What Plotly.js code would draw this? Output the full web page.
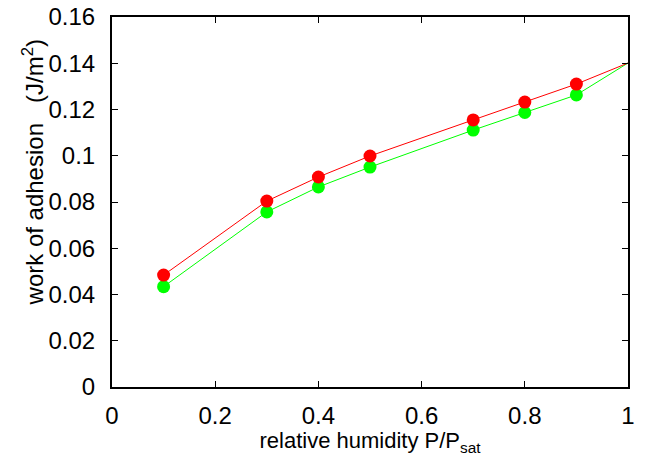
<!DOCTYPE html>
<html><head><meta charset="utf-8">
<script src="https://cdn.plot.ly/plotly-3.0.1.min.js"></script>
<style>body{margin:0;padding:0;background:#fff}#chart{width:646px;height:456px}</style>
</head><body><div id="chart"></div>
<script>
var humidity = [0.1, 0.3, 0.4, 0.5, 0.7, 0.8, 0.9, 1.0];
var adhesionRed = [0.0484, 0.0804, 0.0908, 0.0999, 0.1155, 0.1232, 0.1310, 0.1401];
var adhesionGreen = [0.0434, 0.0757, 0.0865, 0.0951, 0.1111, 0.1187, 0.1263, 0.1401];
var markerSizes = humidity.map(function(x){ return x >= 1 ? 0 : 13; });

var traces = [
  {x: humidity, y: adhesionGreen, mode: 'lines+markers', line: {color: '#00ff00', width: 1},
   marker: {color: '#00ff00', size: markerSizes, opacity: 1, line: {width: 0}}, cliponaxis: false},
  {x: humidity, y: adhesionRed, mode: 'lines+markers', line: {color: '#ff0000', width: 1},
   marker: {color: '#ff0000', size: markerSizes, opacity: 1, line: {width: 0}}, cliponaxis: false}
];
var fam = 'Liberation Sans, Arial, sans-serif';
var layout = {
  width: 646, height: 456,
  margin: {l: 112, r: 18, t: 17, b: 69},
  showlegend: false,
  paper_bgcolor: '#fff', plot_bgcolor: '#fff',
  font: {family: fam, size: 22, color: '#000'},
  xaxis: {range: [0, 1], tickvals: [0, 0.2, 0.4, 0.6, 0.8, 1], ticktext: ['0','0.2','0.4','0.6','0.8','1'],
    ticks: 'inside', ticklen: 6, tickwidth: 1, tickcolor: '#000', mirror: 'ticks',
    showline: true, linecolor: '#000', linewidth: 2, showgrid: false, zeroline: false,
    tickfont: {family: fam, size: 24}, ticklabelstandoff: 6,
    title: {text: 'relative humidity P/P<sub>sat</sub>', font: {family: fam, size: 22}, standoff: 0}},
  yaxis: {range: [0, 0.16], tickvals: [0, 0.02, 0.04, 0.06, 0.08, 0.1, 0.12, 0.14, 0.16],
    ticktext: ['0','0.02','0.04','0.06','0.08','0.1','0.12','0.14','0.16'],
    ticks: 'inside', ticklen: 6, tickwidth: 1, tickcolor: '#000', mirror: 'ticks',
    showline: true, linecolor: '#000', linewidth: 2, showgrid: false, zeroline: false,
    tickfont: {family: fam, size: 24}, ticklabelstandoff: 10},
  annotations: [{
    text: 'work of adhesion&nbsp;&nbsp; (J/m<sup>2</sup>)', textangle: -90,
    xref: 'paper', yref: 'paper', x: -0.153, y: 0.58, xanchor: 'center', yanchor: 'middle',
    showarrow: false, font: {family: fam, size: 24, color: '#000'}
  }]
};
Plotly.newPlot('chart', traces, layout, {displayModeBar: false, staticPlot: true});
</script></body></html>
